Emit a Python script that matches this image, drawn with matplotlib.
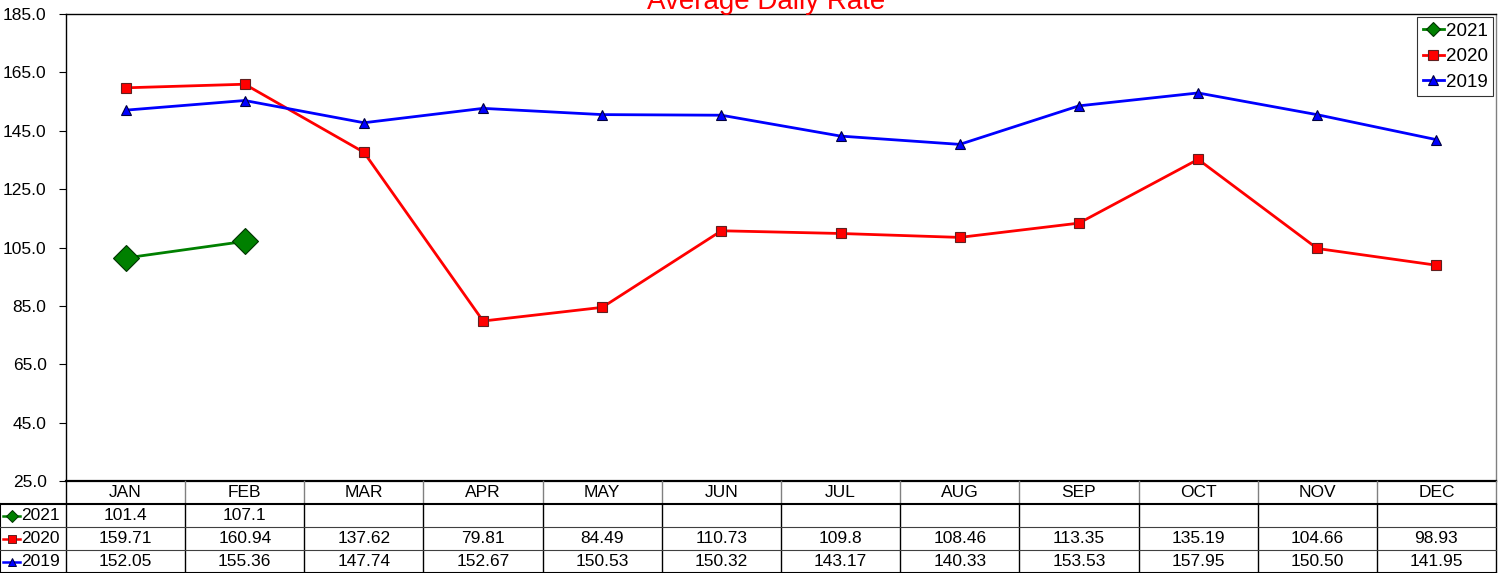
import matplotlib
matplotlib.use("Agg")
import matplotlib.pyplot as plt
from matplotlib.lines import Line2D

plt.rcParams['font.family'] = ['Liberation Sans', 'DejaVu Sans']

# chart data
months = ["JAN", "FEB", "MAR", "APR", "MAY", "JUN", "JUL", "AUG", "SEP", "OCT", "NOV", "DEC"]
adr_2021 = ["101.4", "107.1"]
adr_2020 = ["159.71", "160.94", "137.62", "79.81", "84.49", "110.73", "109.8",
            "108.46", "113.35", "135.19", "104.66", "98.93"]
adr_2019 = ["152.05", "155.36", "147.74", "152.67", "150.53", "150.32", "143.17",
            "140.33", "153.53", "157.95", "150.50", "141.95"]
y_ticks = [25, 45, 65, 85, 105, 125, 145, 165, 185]

W, H = 1508, 573
fig = plt.figure(figsize=(W / 100, H / 100), dpi=100)
fs = 12.5

# series styles: (label, values, line colour, marker, size, face, edge)
series = [
    ("2021", adr_2021, "#008000", "D", 13, "#008000", "#003300"),
    ("2020", adr_2020, "#ff0000", "s", 6.5, "#ff0000", "#602020"),
    ("2019", adr_2019, "#0000ff", "^", 7, "#0000ff", "#000040"),
]

ax = fig.add_axes([66 / W, (H - 481) / H, 1430 / W, 467 / H])
for label, vals, col, mk, ms, fc, ec in series:
    y = [float(v) for v in vals]
    ax.plot(range(len(y)), y, color=col, lw=2.0, marker=mk, ms=ms,
            mfc=fc, mec=ec, mew=0.8, label=label)

ax.set_xlim(-0.5, 11.5)
ax.set_ylim(25, 185)
ax.set_yticks(y_ticks)
ax.set_yticklabels(["%.1f" % t for t in y_ticks], fontsize=fs)
ax.set_xticks([])
ax.tick_params(axis='y', length=5, width=0.8, direction='out', pad=9)
for s in ["left", "top"]:
    ax.spines[s].set_color("black")
    ax.spines[s].set_linewidth(1.0)
ax.spines["bottom"].set_linewidth(1.6)
ax.spines["right"].set_color("#808080")
ax.spines["right"].set_linewidth(1.0)

handles = [Line2D([], [], color=c, lw=2.0, marker=m, ms=(7.5 if m == "D" else s),
                  mfc=f, mec=e, mew=0.8) for _, _, c, m, s, f, e in series]
leg = ax.legend(handles, [s[0] for s in series], loc="upper right", fontsize=13.5,
                frameon=True, fancybox=False, handlelength=1.1, handletextpad=0.1,
                borderpad=0.3, labelspacing=0.45, borderaxespad=0.15)
leg.get_frame().set_edgecolor("black")
leg.get_frame().set_linewidth(0.8)

fig.text(766 / W, 1 - 9 / H, "Average Daily Rate", color="red", fontsize=20,
         ha="center", va="baseline")

# data table under the plot
colw = 1430 / 12
x_left = -0.5 - 66 / colw
tax = fig.add_axes([0, 0, 1496 / W, 92 / H])
tax.set_xlim(x_left, 11.5)
tax.set_ylim(4, 0)
tax.axis("off")

def px(p):
    return x_left + p / colw

for i, m in enumerate(months):
    tax.text(i, 0.5, m, ha="center", va="center", fontsize=fs)
    tax.plot([i + 0.5, i + 0.5], [0, 1], color="#808080", lw=1.0, clip_on=False)
    tax.plot([i + 0.5, i + 0.5], [1, 4], color="black", lw=1.0, clip_on=False)
tax.plot([-0.5, -0.5], [0, 4], color="black", lw=1.0, clip_on=False)
tax.plot([x_left, x_left], [1, 4], color="black", lw=1.5, clip_on=False)
tax.plot([x_left, 11.5], [1, 1], color="black", lw=1.5, clip_on=False)
for r in [2, 3]:
    tax.plot([x_left, 11.5], [r, r], color="#404040", lw=0.8, clip_on=False)
tax.plot([x_left, 11.5], [4, 4], color="black", lw=1.5, clip_on=False)

for r, (label, vals, col, mk, ms, fc, ec) in enumerate(series, start=1):
    yc = r + 0.5
    tax.plot([px(3), px(20)], [yc, yc], color=col, lw=1.8, clip_on=False)
    tax.plot([px(11.5)], [yc], marker=mk, ms=(6.5 if mk == "D" else 5.5),
             mfc=fc, mec=ec, mew=0.7, clip_on=False)
    tax.text(px(21), yc, label, ha="left", va="center", fontsize=fs)
    for i, v in enumerate(vals):
        tax.text(i, yc, v, ha="center", va="center", fontsize=fs)

fig.savefig("out.png", dpi=100)
